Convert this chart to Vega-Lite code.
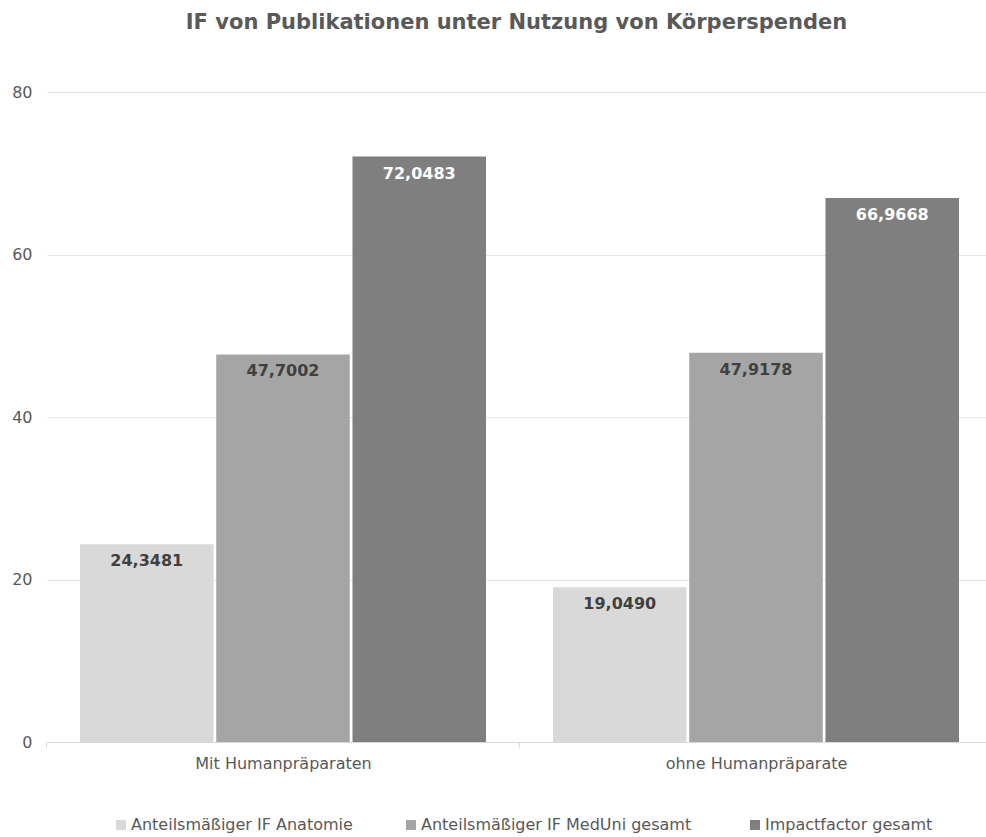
{
  "$schema": "https://vega.github.io/schema/vega-lite/v6.json",
  "autosize": {"type": "none"},
  "width": 939,
  "height": 650,
  "padding": {"left": 47, "top": 92, "right": 0, "bottom": 95},
  "background": "white",
  "title": {
    "text": "IF von Publikationen unter Nutzung von Körperspenden",
    "font": "DejaVu Sans",
    "fontSize": 21,
    "fontWeight": "bold",
    "color": "#595959",
    "anchor": "middle",
    "offset": 51
  },
  "config": {
    "locale": {"number": {"decimal": ",", "thousands": ".", "grouping": [3], "currency": ["", " €"]}},
    "view": {"stroke": null},
    "font": "DejaVu Sans"
  },
  "data": {
    "values": [
      {"gruppe": "Mit Humanpräparaten", "serie": "Anteilsmäßiger IF Anatomie", "wert": 24.3481},
      {"gruppe": "Mit Humanpräparaten", "serie": "Anteilsmäßiger IF MedUni  gesamt", "wert": 47.7002},
      {"gruppe": "Mit Humanpräparaten", "serie": "Impactfactor gesamt", "wert": 72.0483},
      {"gruppe": "ohne Humanpräparate", "serie": "Anteilsmäßiger IF Anatomie", "wert": 19.049},
      {"gruppe": "ohne Humanpräparate", "serie": "Anteilsmäßiger IF MedUni  gesamt", "wert": 47.9178},
      {"gruppe": "ohne Humanpräparate", "serie": "Impactfactor gesamt", "wert": 66.9668}
    ]
  },
  "encoding": {
    "x": {
      "field": "gruppe",
      "type": "nominal",
      "sort": null,
      "title": null,
      "scale": {"paddingInner": 0.1416, "paddingOuter": 0.0634, "align": 0.55},
      "axis": {
        "labelAngle": 0,
        "labelFont": "DejaVu Sans",
        "labelFontSize": 16,
        "labelColor": "#595959",
        "labelPadding": 8,
        "labelLimit": 400,
        "domainColor": "#d9d9d9",
        "tickColor": "#d9d9d9",
        "tickSize": 5,
        "tickOffset": -236.5,
        "labelOffset": 236.5
      }
    },
    "xOffset": {
      "field": "serie",
      "type": "nominal",
      "sort": null,
      "scale": {"paddingInner": 0.02, "paddingOuter": 0}
    },
    "y": {
      "field": "wert",
      "type": "quantitative",
      "title": null,
      "scale": {"domain": [0, 80], "nice": false},
      "axis": {
        "values": [0, 20, 40, 60, 80],
        "domain": false,
        "ticks": false,
        "labelFont": "DejaVu Sans",
        "labelFontSize": 16,
        "labelColor": "#595959",
        "labelPadding": 15,
        "gridColor": "#e6e6e6"
      }
    }
  },
  "layer": [
    {
      "mark": {"type": "bar"},
      "encoding": {
        "color": {
          "field": "serie",
          "type": "nominal",
          "sort": null,
          "scale": {"range": ["#d9d9d9", "#a5a5a5", "#7f7f7f"]},
          "legend": {
            "title": null,
            "orient": "none",
            "direction": "horizontal",
            "legendX": 66,
            "legendY": 725,
            "symbolType": "square",
            "symbolSize": 100,
            "symbolStrokeWidth": 0,
            "labelFont": "DejaVu Sans",
            "labelFontSize": 16,
            "labelColor": "#595959",
            "labelOffset": 2,
            "labelLimit": 500,
            "columnPadding": 50
          }
        }
      }
    },
    {
      "mark": {"type": "text", "baseline": "middle", "dy": 17, "fontSize": 16, "fontWeight": "bold", "font": "DejaVu Sans"},
      "encoding": {
        "text": {"field": "wert", "type": "quantitative", "format": ".4f"},
        "color": {
          "condition": {"test": "datum.serie === 'Impactfactor gesamt'", "value": "#ffffff"},
          "value": "#404040"
        }
      }
    }
  ]
}
